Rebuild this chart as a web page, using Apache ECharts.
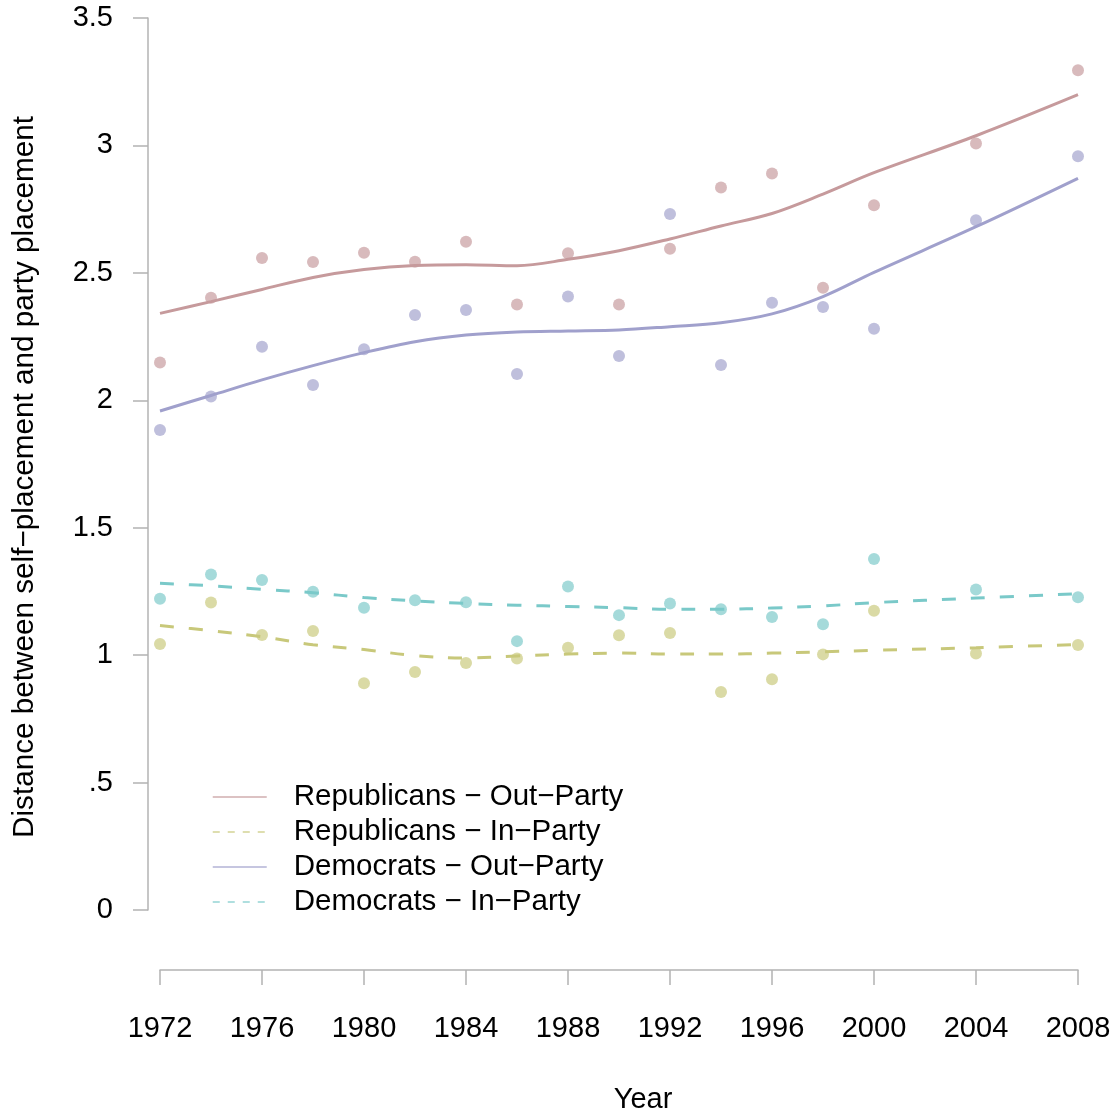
<!DOCTYPE html>
<html>
<head>
<meta charset="utf-8">
<script src="https://cdn.jsdelivr.net/npm/echarts@6/dist/echarts.min.js"></script>
<style>
html,body{margin:0;padding:0;background:#fff;}
#c{width:1118px;height:1116px;}
</style>
</head>
<body>
<div id="c"></div>
<script>
// ---- data ----
const years = [1972,1974,1976,1978,1980,1982,1984,1986,1988,1990,1992,1994,1996,1998,2000,2004,2008];
const xTicks = [1972,1976,1980,1984,1988,1992,1996,2000,2004,2008];
const yTickLabels = ['0','.5','1','1.5','2','2.5','3','3.5'];

const seriesNames = ['Republicans \u2212 Out\u2212Party','Republicans \u2212 In\u2212Party','Democrats \u2212 Out\u2212Party','Democrats \u2212 In\u2212Party'];

// observed points
const repOutPts = [2.148,2.402,2.558,2.543,2.579,2.544,2.622,2.376,2.577,2.376,2.595,2.835,2.890,2.442,2.765,3.008,3.295];
const repInPts  = [1.044,1.207,1.079,1.095,0.890,0.934,0.969,0.987,1.029,1.078,1.087,0.855,0.905,1.003,1.174,1.006,1.040];
const demOutPts = [1.883,2.015,2.210,2.060,2.200,2.335,2.354,2.103,2.407,2.174,2.731,2.138,2.383,2.366,2.281,2.706,2.958];
const demInPts  = [1.221,1.316,1.295,1.249,1.186,1.215,1.208,1.055,1.269,1.157,1.203,1.180,1.150,1.121,1.377,1.258,1.227];

// smoothed fits
const repOutFit = [2.341,2.387,2.435,2.482,2.513,2.529,2.532,2.528,2.553,2.587,2.633,2.684,2.733,2.809,2.893,3.038,3.199];
const repInFit  = [1.116,1.096,1.072,1.041,1.022,0.998,0.989,0.997,1.004,1.008,1.004,1.004,1.008,1.013,1.019,1.029,1.042];
const demOutFit = [1.958,2.019,2.080,2.136,2.187,2.230,2.256,2.268,2.272,2.276,2.289,2.304,2.339,2.407,2.502,2.681,2.871];
const demInFit  = [1.282,1.272,1.258,1.245,1.226,1.213,1.203,1.196,1.191,1.186,1.180,1.180,1.185,1.193,1.206,1.224,1.241];

const colors = ['#c69a9c','#c8c87a','#a0a0cc','#7ac9c9'];
const dashed = [false,true,false,true];

const pts = [repOutPts, repInPts, demOutPts, demInPts];
const fits = [repOutFit, repInFit, demOutFit, demInFit];

function pairs(arr){ return years.map((y,i)=>[y,arr[i]]); }

const series = [];
pts.forEach((p,i)=>{
  series.push({
    type:'scatter', name:'pts'+i, data:pairs(p), symbolSize:12,
    itemStyle:{color:colors[i], opacity:0.68}, z:2, silent:true
  });
});
fits.forEach((f,i)=>{
  series.push({
    type:'line', name:seriesNames[i], data:pairs(f), smooth:0.35, showSymbol:false, symbol:'none',
    lineStyle:{color:colors[i], width:3, type: dashed[i] ? [14,15] : 'solid', cap:'butt'},
    itemStyle:{color:colors[i]}, z:3, silent:true
  });
});

const chart = echarts.init(document.getElementById('c'), null, {renderer:'canvas'});
const font = 'Liberation Sans, Arial, Helvetica, sans-serif';
chart.setOption({
  animation:false,
  backgroundColor:'#fff',
  textStyle:{fontFamily:font},
  grid:{left:160, right:40, top:18, bottom:206, containLabel:false, outerBoundsMode:'none'},
  xAxis:{
    type:'value', min:1972, max:2008, interval:4, offset:60,
    name:'Year', nameLocation:'middle', nameGap:115,
    nameTextStyle:{fontSize:29, color:'#000', fontFamily:font, padding:[0,0,0,48]},
    axisLine:{show:true, onZero:false, lineStyle:{color:'#b3b3b3', width:1.5}},
    axisTick:{show:true, length:15, lineStyle:{color:'#b3b3b3', width:1.5}},
    axisLabel:{fontSize:29, color:'#000', margin:44, fontFamily:font,
      formatter:v=> xTicks.indexOf(v)>=0 ? String(v) : ''},
    splitLine:{show:false}
  },
  yAxis:{
    type:'value', min:0, max:3.5, interval:0.5, offset:12,
    name:'Distance between self\u2212placement and party placement', nameLocation:'middle', nameGap:108,
    nameRotate:90,
    nameTextStyle:{fontSize:29.7, color:'#000', fontFamily:font, padding:[0,26,0,0]},
    axisLine:{show:true, onZero:false, lineStyle:{color:'#b3b3b3', width:1.5}},
    axisTick:{show:true, length:15, lineStyle:{color:'#b3b3b3', width:1.5}},
    axisLabel:{fontSize:29, color:'#000', margin:35, fontFamily:font,
      formatter:v=> yTickLabels[Math.round(v/0.5)]},
    splitLine:{show:false}
  },
  legend:{
    orient:'vertical', left:212, top:782, padding:0, itemGap:5,
    itemWidth:54, itemHeight:14,
    itemStyle:{opacity:0},
    textStyle:{fontSize:29.5, lineHeight:29, color:'#000', fontFamily:font, padding:[0,0,0,22]},
    data: seriesNames.map((n,i)=>({
      name:n,
      lineStyle:{color:colors[i], width:1.5, type: dashed[i] ? [7,8] : 'solid', opacity:0.8}
    })),
    selectedMode:false
  },
  series: series
});
</script>
</body>
</html>
